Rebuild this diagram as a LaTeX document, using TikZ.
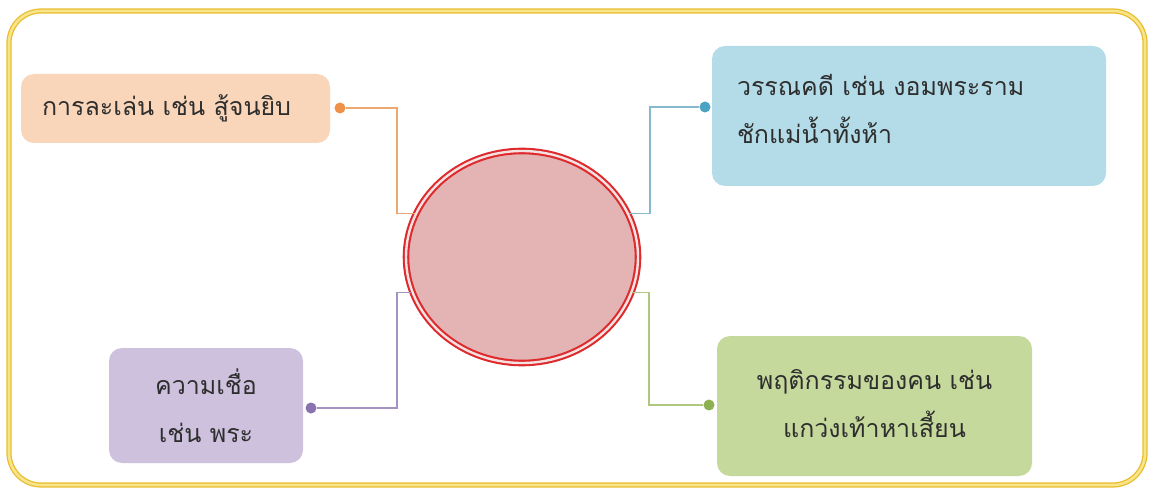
\documentclass[tikz,border=0pt]{standalone}
\usepackage{fontspec}
\newfontfamily\thaifont[Script=Thai]{Loma}
\usetikzlibrary{shapes.geometric}
\definecolor{frameout}{HTML}{E8BE30}
\definecolor{framein}{HTML}{F8E48A}
\definecolor{ofill}{HTML}{F9D6BA}
\definecolor{odot}{HTML}{EF9149}
\definecolor{oline}{HTML}{EBA86F}
\definecolor{bfill}{HTML}{B4DCE8}
\definecolor{bdot}{HTML}{4BA2C2}
\definecolor{bline}{HTML}{86B9CD}
\definecolor{pfill}{HTML}{CEC1DE}
\definecolor{pdot}{HTML}{8A72B0}
\definecolor{pline}{HTML}{A293C2}
\definecolor{gfill}{HTML}{C6D99C}
\definecolor{gdot}{HTML}{8DB152}
\definecolor{gline}{HTML}{AFC77F}
\definecolor{cfill}{HTML}{E4B4B5}
\definecolor{cred}{HTML}{DE2A2C}
\definecolor{txt}{HTML}{2E2E2E}
\tikzset{
  box/.style={rounded corners=13pt, minimum width=#1, inner sep=0pt, text=txt,
     font=\thaifont\fontsize{25}{48}\selectfont},
  dotnode/.style={circle, inner sep=0pt, minimum size=11pt},
  conn/.style={line width=1.1pt},
}
\begin{document}
\begin{tikzpicture}[x=1pt,y=-1pt]
\useasboundingbox (0,0) rectangle (1152,492);
\fill[white] (0,0) rectangle (1152,492);
% frame
\draw[draw=frameout, double=framein, line width=1.3pt, double distance=2.6pt, rounded corners=32pt]
  (9,11) rectangle (1145,485);
% boxes
\node[box=309pt, fill=ofill, minimum height=69pt, text width=309pt, align=left]
  (orange) at (175.5,108.5) {\hspace*{21pt}การละเล่น เช่น สู้จนยิบ};
\node[box=394pt, fill=bfill, minimum height=140pt, text width=394pt, align=left]
  (blue) at (909,116) {\hspace*{25pt}วรรณคดี เช่น งอมพระราม\\\hspace*{25pt}ชักแม่น้ำทั้งห้า\\[-34pt]\mbox{}};
\node[box=194pt, fill=pfill, minimum height=115pt, text width=194pt, align=center]
  (purple) at (206,405.5) {ความเชื่อ\\เช่น พระ};
\node[box=315pt, fill=gfill, minimum height=140pt, text width=315pt, align=center]
  (green) at (874.5,406) {พฤติกรรมของคน เช่น\\แกว่งเท้าหาเสี้ยน\\[-42pt]\mbox{}};
% dots
\node[dotnode, fill=odot] (od) at (340,108) {};
\node[dotnode, fill=bdot] (bd) at (705,107) {};
\node[dotnode, fill=pdot] (pd) at (311,408) {};
\node[dotnode, fill=gdot] (gd) at (709,405) {};
% central circle
\node[ellipse, minimum width=232pt, minimum height=212pt, fill=cfill, draw=cred,
  double=white!60!cfill, line width=2.1pt, double distance=2.4pt] (c) at (522,257) {};
% connectors
\draw[conn, oline] (od) -- ++(57,0) |- (c.158);
\draw[conn, bline] (bd) -- ++(-55,0) |- (c.22);
\draw[conn, pline] (pd) -- ++(86,0) |- (c.198);
\draw[conn, gline] (gd) -- ++(-60,0) |- (c.342);
\end{tikzpicture}
\end{document}
